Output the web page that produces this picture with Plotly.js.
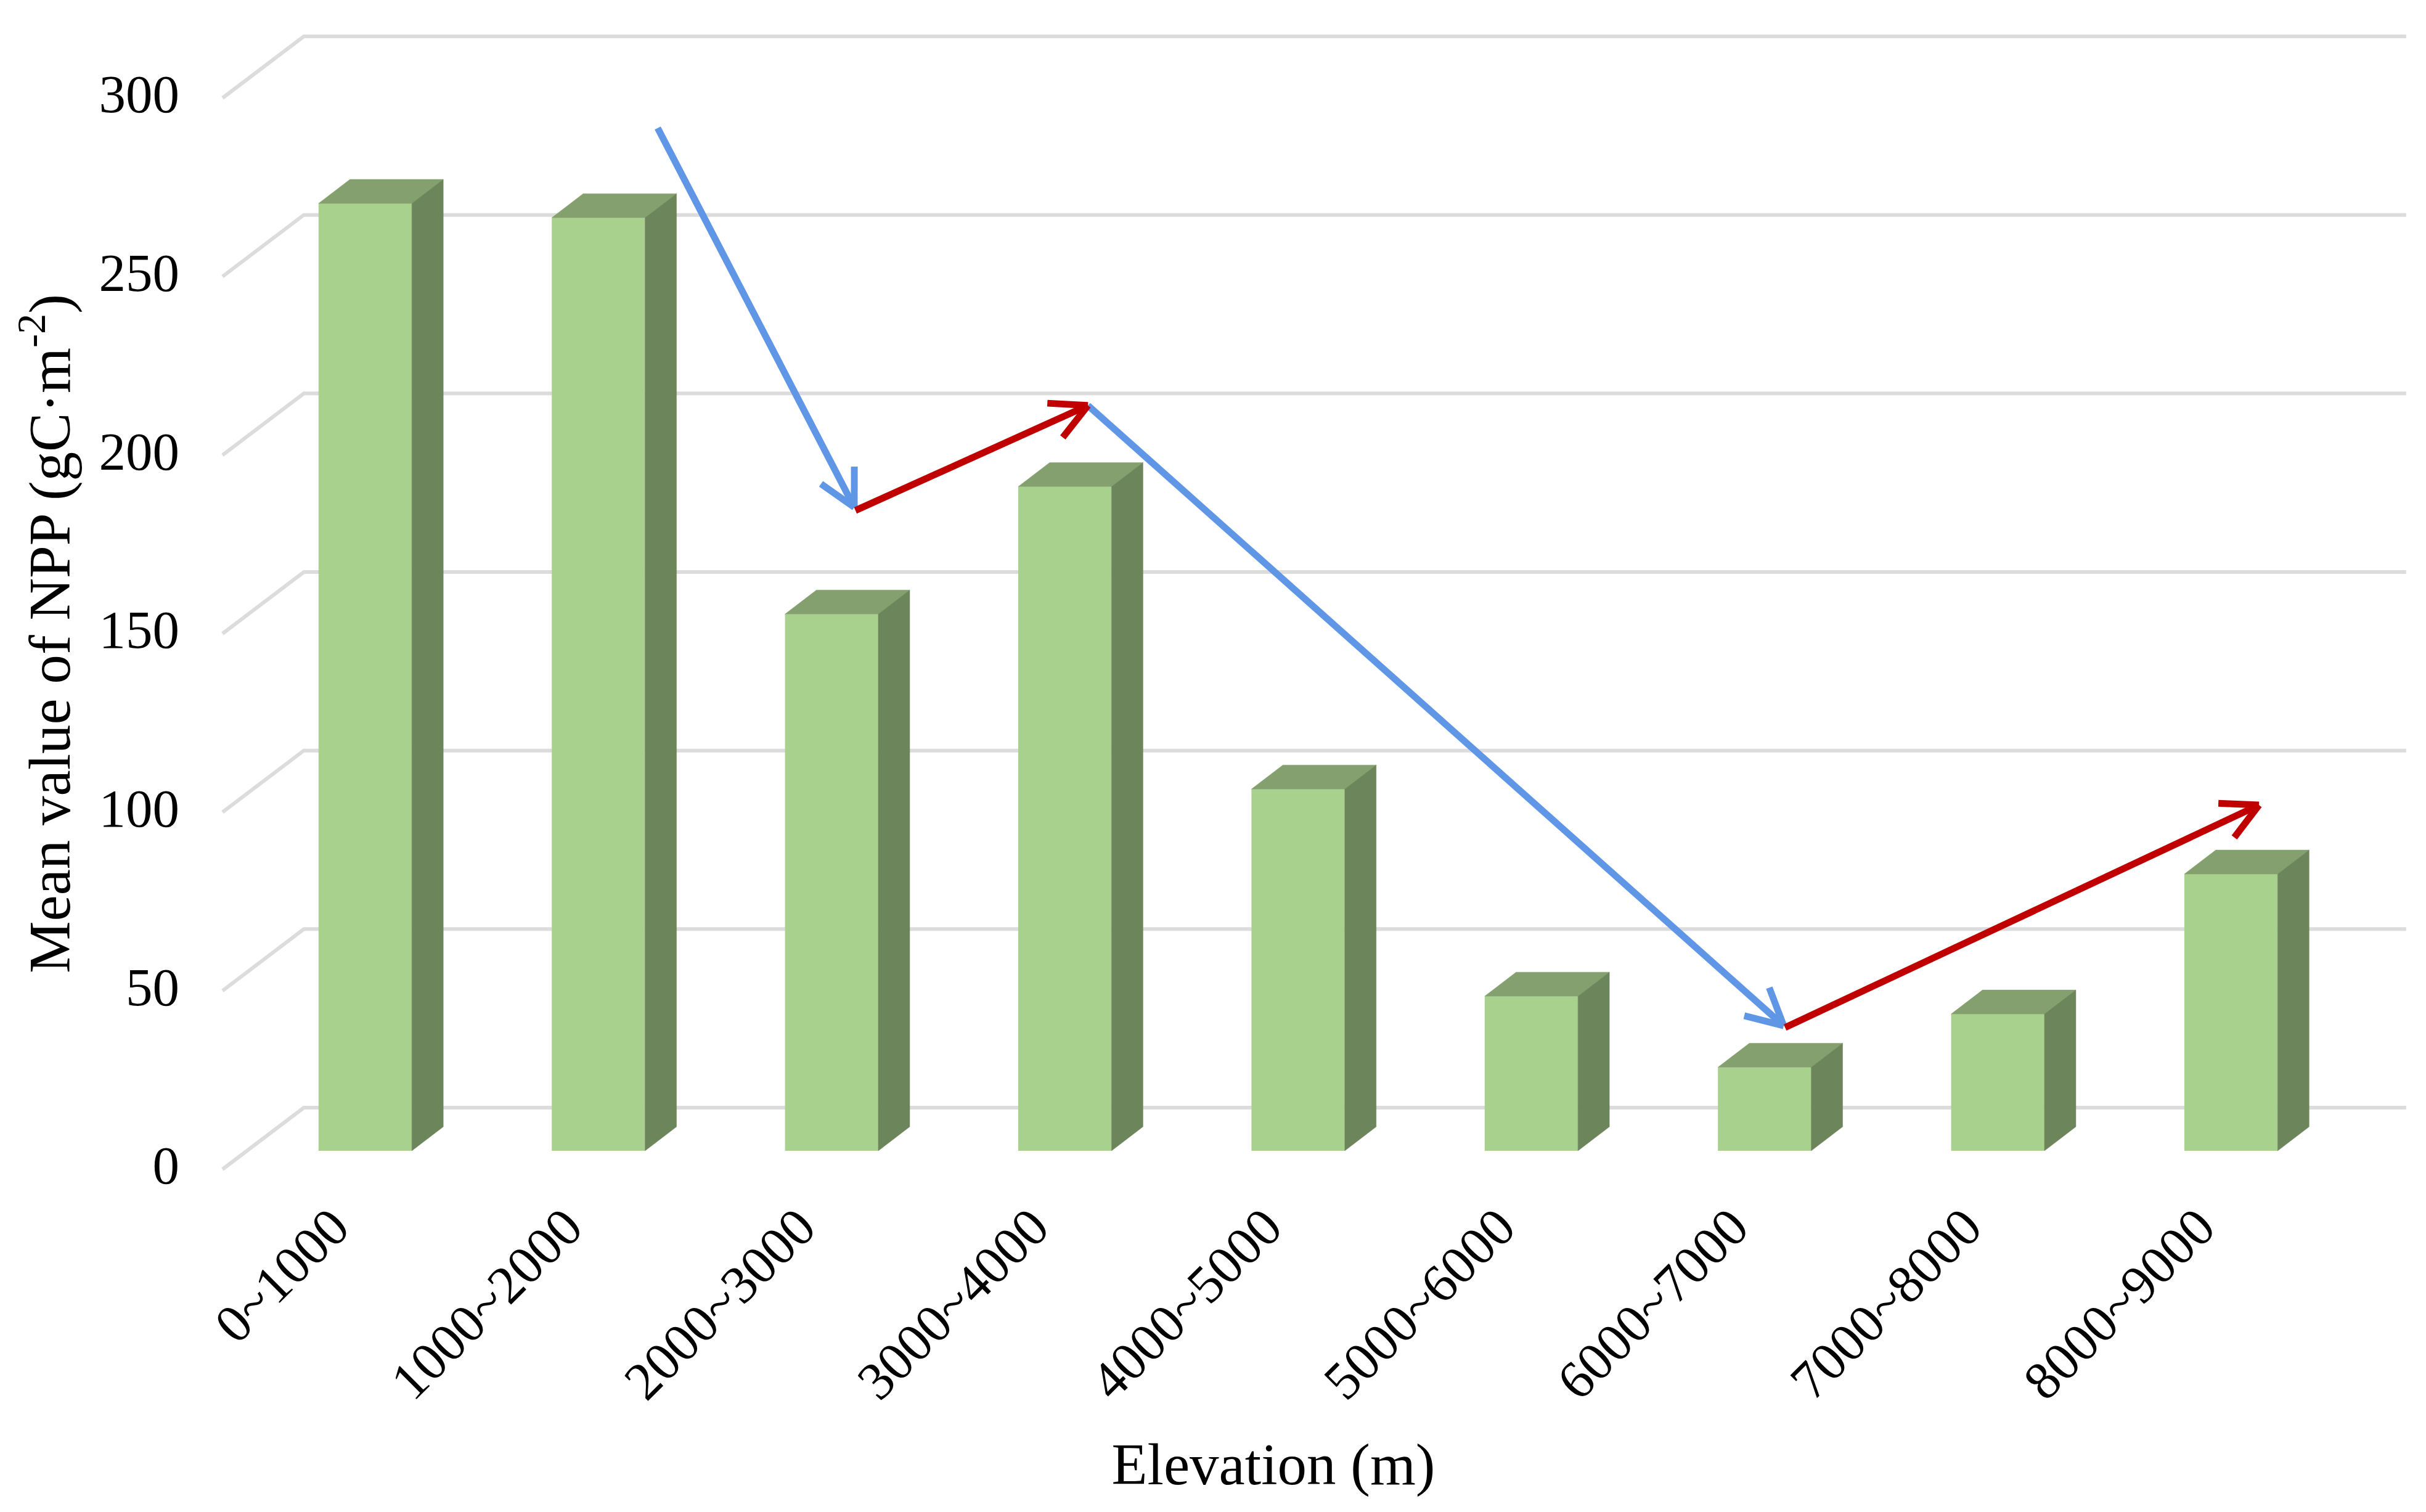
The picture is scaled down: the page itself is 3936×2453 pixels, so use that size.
<!DOCTYPE html>
<html>
<head>
<meta charset="utf-8">
<script src="https://cdn.plot.ly/plotly-3.0.1.min.js"></script>
<style>html,body{margin:0;padding:0;background:#fff}#chart{width:3936px;height:2453px}</style>
</head>
<body>
<div id="chart"></div>
<script>
const categories = ["0~1000","1000~2000","2000~3000","3000~4000","4000~5000","5000~6000","6000~7000","7000~8000","8000~9000"];
const values = [265.3, 261.3, 150.3, 186, 101.3, 43.3, 23.4, 38.3, 77.5];
const yTicks = [0, 50, 100, 150, 200, 250, 300];
const blueArrows = [[1.254, 291.6, 2.097, 185.4], [3.099, 213.9, 6.082, 40.2]];
const redArrows = [[2.102, 184.5, 3.099, 213.9], [6.088, 39.7, 8.120, 102]];

const W = 3936, H = 2453;
const box = {l: 361, r: 3771, t: 159, b: 1897};
const xRange = [-0.6118, 8.4];
const yRange = [0, 300];
const pxX = (box.r - box.l) / (xRange[1] - xRange[0]);
const pxY = (box.b - box.t) / (yRange[1] - yRange[0]);
const xFull = [xRange[0] - box.l / pxX, xRange[1] + (W - box.r) / pxX];
const yFull = [yRange[0] - (H - box.b) / pxY, yRange[1] + box.t / pxY];

const barWidth = 0.4, sideDx = 51 / pxX, topDy = 39 / pxY, barLift = 30 / pxY;
const wallLift = 100 / pxY, wallX = -0.263, wallEnd = 8.751;
const FRONT = '#A9D18E', TOP = '#84A06E', SIDE = '#6C855A', GRID = '#DCDCDC';
const SERIF = '"Liberation Serif", "Times New Roman", serif';

const traces = [];
const gx = [], gy = [];
yTicks.forEach(v => {
  gx.push(xRange[0], wallX, wallEnd, null);
  gy.push(v, v + wallLift, v + wallLift, null);
});
traces.push({type: 'scatter', mode: 'lines', x: gx, y: gy, hoverinfo: 'skip',
  line: {color: GRID, width: 6}, showlegend: false, xaxis: 'x', yaxis: 'y'});

const xs = categories.map((_, i) => i);
traces.push({type: 'bar', x: xs, y: values, base: values.map(() => barLift), width: barWidth,
  marker: {color: FRONT, line: {width: 0}}, showlegend: false, xaxis: 'x2', yaxis: 'y2'});

const tx = [], ty = [], sx = [], sy = [];
values.forEach((v, i) => {
  const l = i - barWidth / 2, r = i + barWidth / 2, t = v + barLift, b = barLift;
  tx.push(l, r, r + sideDx, l + sideDx, l, null);
  ty.push(t, t, t + topDy, t + topDy, t, null);
  sx.push(r, r + sideDx, r + sideDx, r, r, null);
  sy.push(b, b + topDy, t + topDy, t, b, null);
});
[[tx, ty, TOP], [sx, sy, SIDE]].forEach(([x, y, c]) => traces.push({
  type: 'scatter', mode: 'lines', x, y, fill: 'toself', fillcolor: c, line: {color: c, width: 0.5},
  hoverinfo: 'skip', showlegend: false, xaxis: 'x2', yaxis: 'y2'}));

function arrowTrace(list, color) {
  const ax = [], ay = [];
  const armLen = 66, armAngle = 27.5 * Math.PI / 180;
  list.forEach(([x0, y0, x1, y1]) => {
    ax.push(x0, x1, null);
    ay.push(y0, y1, null);
    const dir = Math.atan2((y0 - y1) * pxY, (x0 - x1) * pxX);
    [dir + armAngle, dir - armAngle].forEach(a => {
      ax.push(x1 + armLen * Math.cos(a) / pxX, x1, null);
      ay.push(y1 + armLen * Math.sin(a) / pxY, y1, null);
    });
  });
  return {type: 'scatter', mode: 'lines', x: ax, y: ay, line: {color, width: 11}, hoverinfo: 'skip',
    showlegend: false, xaxis: 'x2', yaxis: 'y2'};
}
traces.push(arrowTrace(blueArrows, '#5F96E6'));
traces.push(arrowTrace(redArrows, '#C00000'));

const layout = {
  width: W, height: H, margin: {l: 0, r: 0, t: 0, b: 0, pad: 0}, paper_bgcolor: '#fff', plot_bgcolor: 'rgba(0,0,0,0)',
  font: {family: SERIF, color: '#000', size: 87},
  showlegend: false, hovermode: false,
  xaxis: {domain: [0, 1], range: xFull, visible: false, anchor: 'y'},
  yaxis: {domain: [0, 1], range: yFull, visible: false, anchor: 'x'},
  xaxis2: {domain: [box.l / W, box.r / W], range: xRange, anchor: 'y2',
    tickmode: 'array', tickvals: xs, ticktext: categories, tickangle: -45,
    showgrid: false, zeroline: false, showline: false, ticks: '', ticklabelstandoff: 24, ticklabelshift: -52,
    tickfont: {family: SERIF, size: 87, color: '#000'},
    title: {text: 'Elevation (m)', font: {family: SERIF, size: 95, color: '#000'}, standoff: 53}},
  yaxis2: {domain: [1 - box.b / H, 1 - box.t / H], range: yRange, anchor: 'x2',
    tickmode: 'array', tickvals: yTicks, showgrid: false, zeroline: false,
    showline: false, ticks: '', ticklabelstandoff: 69, ticklabelshift: -7,
    tickfont: {family: SERIF, size: 87, color: '#000'},
    title: {text: 'Mean value of NPP (gC·m<sup>-2</sup>)', font: {family: SERIF, size: 95, color: '#000'}, standoff: 15}}
};
Plotly.newPlot('chart', traces, layout, {displayModeBar: false, staticPlot: true});
</script>
</body>
</html>
